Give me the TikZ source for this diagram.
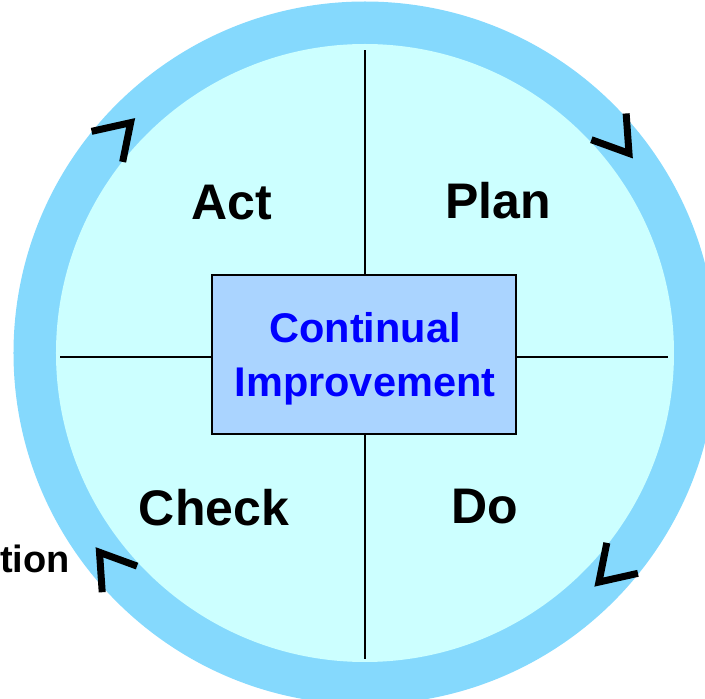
\documentclass[tikz,border=0pt]{standalone}
\usepackage{fontspec}
\setmainfont{Liberation Sans}
\definecolor{ringc}{HTML}{85D9FD}
\definecolor{innerc}{HTML}{CCFFFF}
\definecolor{boxfill}{HTML}{AAD4FF}
\definecolor{citext}{HTML}{0000FF}
\begin{document}
\begin{tikzpicture}[x=1pt,y=1pt,
  chev/.style={line width=7pt, miter limit=10, line cap=butt, line join=miter},
  quad/.style={font=\fontsize{50}{60}\selectfont\bfseries, inner sep=0pt, anchor=base},
  citxt/.style={font=\fontsize{41.5}{50}\selectfont\bfseries, text=citext, inner sep=0pt, anchor=base},
  cibox/.style={draw, line width=1.6pt, fill=boxfill, minimum width=304pt, minimum height=159pt, inner sep=0pt},
  divider/.style={line width=1.3pt},
  sidetxt/.style={font=\fontsize{38}{45}\selectfont\bfseries, inner sep=0pt, anchor=base east}]
\useasboundingbox (-365,-346) rectangle (340,353);
\clip (-365,-346) rectangle (340,353);
% ring and inner disc
\fill[ringc] (0,0) circle (351.5);
\fill[innerc] (0,0) circle (309);
% central box
\node[cibox] (ci) at (-1,-1.5) {};
% divider end points
\coordinate (top) at (0,303);
\coordinate (bot) at (0,-306);
\coordinate (lft) at (-305,-4);
\coordinate (rgt) at (303,-4);
\draw[divider] (ci.north -| top) -- (top);
\draw[divider] (ci.south -| bot) -- (bot);
\draw[divider] (lft -| ci.west) -- (lft);
\draw[divider] (rgt -| ci.east) -- (rgt);
\node[cibox] at (ci) {};
% texts
\node[citxt] (t1) at (0,10) {Continual};
\node[citxt] (t2) at (0,-44) {Improvement};
\node[quad] (act) at (-133,133) {Act};
\node[quad] (plan) at (133,134) {Plan};
\node[quad] (check) at (-151,-172) {Check};
\node[quad] (do) at (120,-170) {Do};
\node[sidetxt] (side) at (-295,-219) {tion};
% chevrons (clockwise flow)
\foreach \a/\r in {135.5/328.6, 37.1/331, -44.4/327.4, -143.1/332}{
  \draw[chev, shift={(\a:\r)}, rotate=\a-90] (147:40) -- (0,0) -- (213:40);
}
\end{tikzpicture}
\end{document}
